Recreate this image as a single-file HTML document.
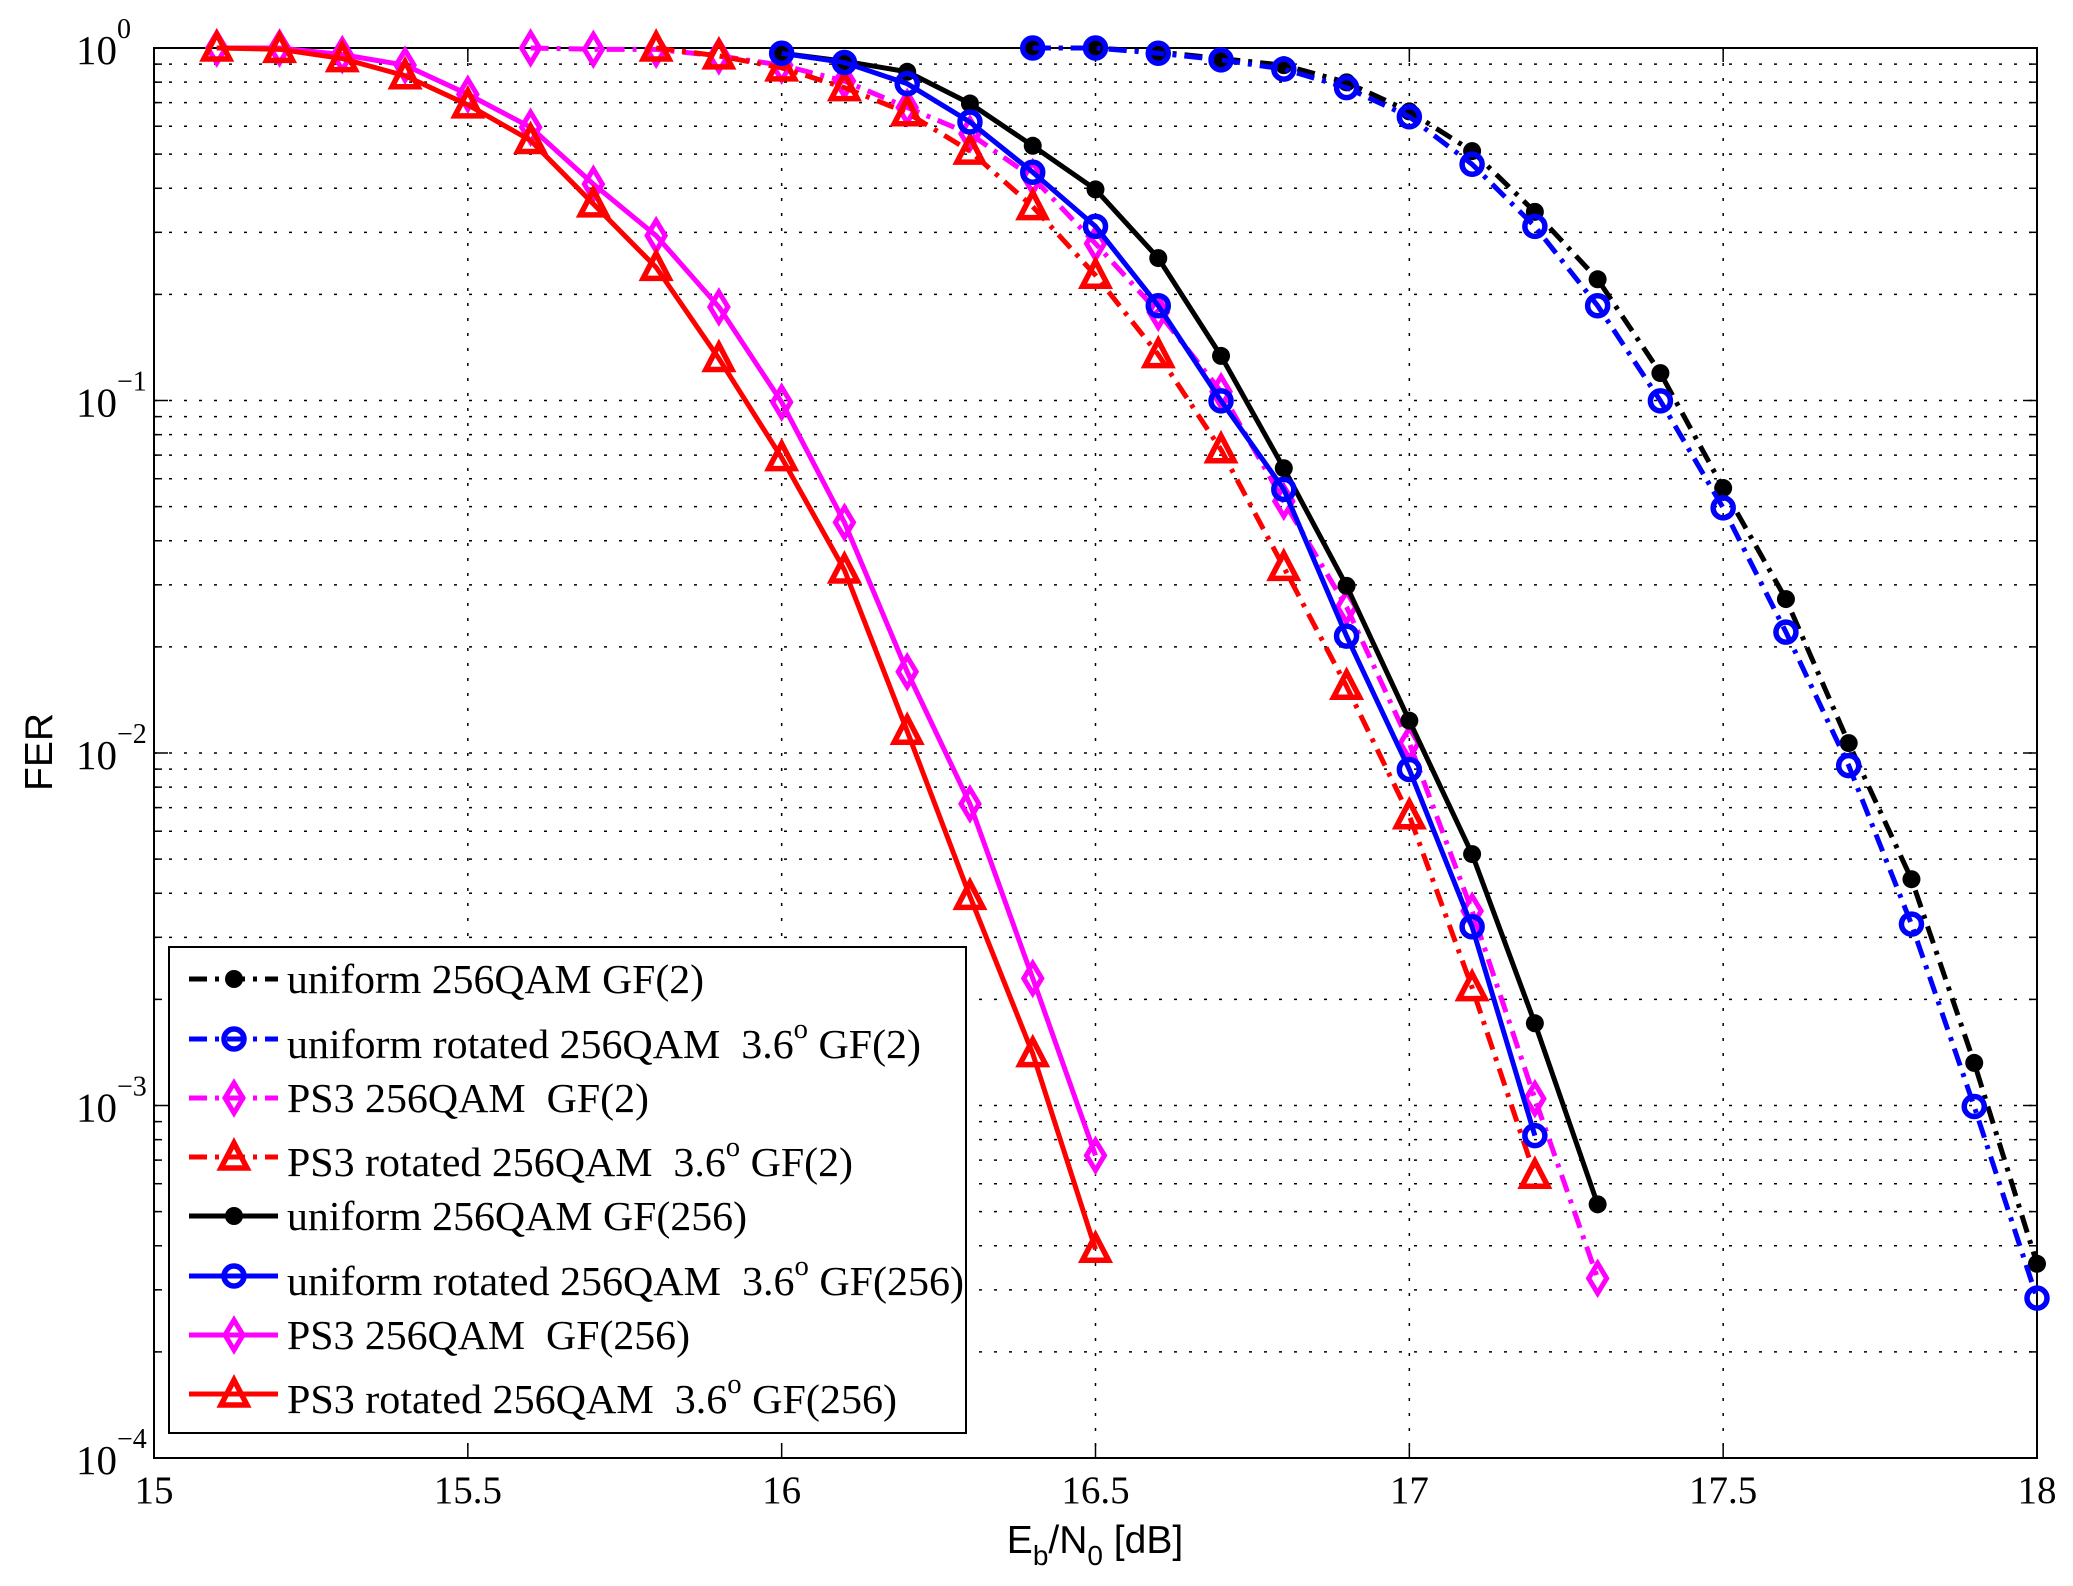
<!DOCTYPE html>
<html><head><meta charset="utf-8"><style>html,body{margin:0;padding:0;background:#fff}svg{display:block}</style></head>
<body>
<svg id="s" width="2073" height="1586" xmlns="http://www.w3.org/2000/svg"></svg>
<script>
const NS="http://www.w3.org/2000/svg",S=document.getElementById('s');
const L=154,R=2037,T=48,B=1458;
const X=v=>L+(v-15)*(R-L)/3, Yd=d=>48+(d-37)*1.3215;
const Yl=v=>T+(-Math.log10(v))*(B-T)/4;
let h='';
for(let v=15.5;v<18;v+=0.5){const x=X(v);h+=`<line x1="${x}" y1="${T}" x2="${x}" y2="${B}" stroke="#000" stroke-width="1.5" stroke-dasharray="3,12"/>`;
h+=`<line x1="${x}" y1="${B}" x2="${x}" y2="${B-14}" stroke="#000" stroke-width="1.5"/><line x1="${x}" y1="${T}" x2="${x}" y2="${T+14}" stroke="#000" stroke-width="1.5"/>`;}
for(let e=0;e>=-4;e--){for(let m=1;m<=9;m++){const v=m*Math.pow(10,e-1);if(v>1||v<1e-4)continue;const y=Yl(v);
 if(y>T+1&&y<B-1)h+=`<line x1="${L}" y1="${y}" x2="${R}" y2="${y}" stroke="#000" stroke-width="1.5" stroke-dasharray="3,12"/>`;
 const tl=(m==1)?14:8;h+=`<line x1="${L}" y1="${y}" x2="${L+tl}" y2="${y}" stroke="#000" stroke-width="1.5"/><line x1="${R}" y1="${y}" x2="${R-tl}" y2="${y}" stroke="#000" stroke-width="1.5"/>`;}}
h+=`<rect x="${L}" y="${T}" width="${R-L}" height="${B-T}" fill="none" stroke="#000" stroke-width="2"/>`;
const xl=['15','15.5','16','16.5','17','17.5','18'];
xl.forEach((t,i)=>{h+=`<text x="${X(15+i*0.5)}" y="1503" font-family="Liberation Serif,serif" font-size="39" text-anchor="middle">${t}</text>`});
['0','−1','−2','−3','−4'].forEach((t,i)=>{const y=T+i*(B-T)/4;h+=`<text x="117" y="${y+16}" font-family="Liberation Serif,serif" font-size="41" text-anchor="end">10</text><text x="117" y="${y-10}" font-family="Liberation Serif,serif" font-size="28">${t}</text>`});
h+=`<text transform="translate(52,752) rotate(-90)" font-family="Liberation Sans,sans-serif" font-size="39" text-anchor="middle">FER</text>`;
h+=`<text x="1095" y="1553" font-family="Liberation Sans,sans-serif" font-size="39" text-anchor="middle">E<tspan font-size="28" dy="12">b</tspan><tspan dy="-12">/N</tspan><tspan font-size="28" dy="12">0</tspan><tspan dy="-12"> [dB]</tspan></text>`;
const D=[
 {c:'#000',dash:1,m:'dot',x0:16.4,y:[37,37,40,45,50,63,85,115,161,212,283,370,454,563,666,805,957]},
 {c:'#00f',dash:1,m:'circ',x0:16.4,y:[37,37,41,46,53,67,89,125,172,232,304,385,479,580,700,838,983]},
 {c:'#f0f',dash:1,m:'dia',x0:15.6,y:[37,38,38,43,50,62,82,102,135,185,237,297,380,460,563,690,832,968]},
 {c:'#f00',dash:1,m:'tri',x0:15.8,y:[37,43,52,67,86,115,157,209,269,341,430,520,618,748,890]},
 {c:'#000',dash:0,m:'dot',x0:16.0,y:[41,47,55,79,111,144,196,270,355,444,546,647,775,912]},
 {c:'#00f',dash:0,m:'circ',x0:16.0,y:[41,48,64,93,131,172,232,304,371,482,583,702,860]},
 {c:'#f0f',dash:0,m:'dia',x0:15.1,y:[37,37,42,50,72,97,140,179,233,305,396,509,609,741,875]},
 {c:'#f00',dash:0,m:'tri',x0:15.1,y:[37,38,45,58,80,107,155,203,272,347,432,554,679,798,946]}
];
function mk(m,c,x,y){
 if(m=='dot')return `<circle cx="${x}" cy="${y}" r="9" fill="${c}"/>`;
 if(m=='circ')return `<circle cx="${x}" cy="${y}" r="10" fill="none" stroke="${c}" stroke-width="5.5"/>`;
 if(m=='dia')return `<polygon points="${x},${y-15} ${x+9},${y} ${x},${y+15} ${x-9},${y}" fill="none" stroke="${c}" stroke-width="5"/>`;
 return `<polygon points="${x},${y-14} ${x+13},${y+11} ${x-13},${y+11}" fill="none" stroke="${c}" stroke-width="5.5"/>`;
}
D.forEach(s=>{const pts=s.y.map((d,i)=>[X(s.x0+i*0.1),Math.min(Yd(d),B)]);
 h+=`<polyline points="${pts.map(p=>p.join(',')).join(' ')}" fill="none" stroke="${s.c}" stroke-width="5" ${s.dash?'stroke-dasharray="18,8,4,8"':''} stroke-linejoin="round"/>`;
 pts.forEach(p=>h+=mk(s.m,s.c,p[0],p[1]));});
h+=`<rect x="169" y="947" width="797" height="486" fill="#fff" stroke="#000" stroke-width="2"/>`;
const labs=[['uniform 256QAM GF(2)',0,704],['uniform rotated 256QAM  3.6|GF(2)',1,921],['PS3 256QAM  GF(2)',0,649],['PS3 rotated 256QAM  3.6|GF(2)',1,853],
['uniform 256QAM GF(256)',0,747],['uniform rotated 256QAM  3.6|GF(256)',1,964],['PS3 256QAM  GF(256)',0,690],['PS3 rotated 256QAM  3.6|GF(256)',1,897]];
const ly=[979,1039,1098,1157,1216,1276,1335,1394];
labs.forEach((l,i)=>{const s=D[i],y=ly[i];
 h+=`<line x1="189" y1="${y}" x2="278" y2="${y}" stroke="${s.c}" stroke-width="5" ${s.dash?'stroke-dasharray="18,8,4,8"':''}/>`+mk(s.m,s.c,234,y);
 const by=y+(l[1]?19:14);let txt=l[0];
 if(l[1]){const p=txt.split('|');txt=`${p[0]}<tspan font-size="28" dy="-20">o</tspan><tspan dy="20"> ${p[1]}</tspan>`;}
 h+=`<text x="287" y="${by}" font-family="Liberation Serif,serif" font-size="41" textLength="${l[2]-287}" lengthAdjust="spacingAndGlyphs" xml:space="preserve">${txt}</text>`;});
S.innerHTML=h;
</script>
</body></html>
